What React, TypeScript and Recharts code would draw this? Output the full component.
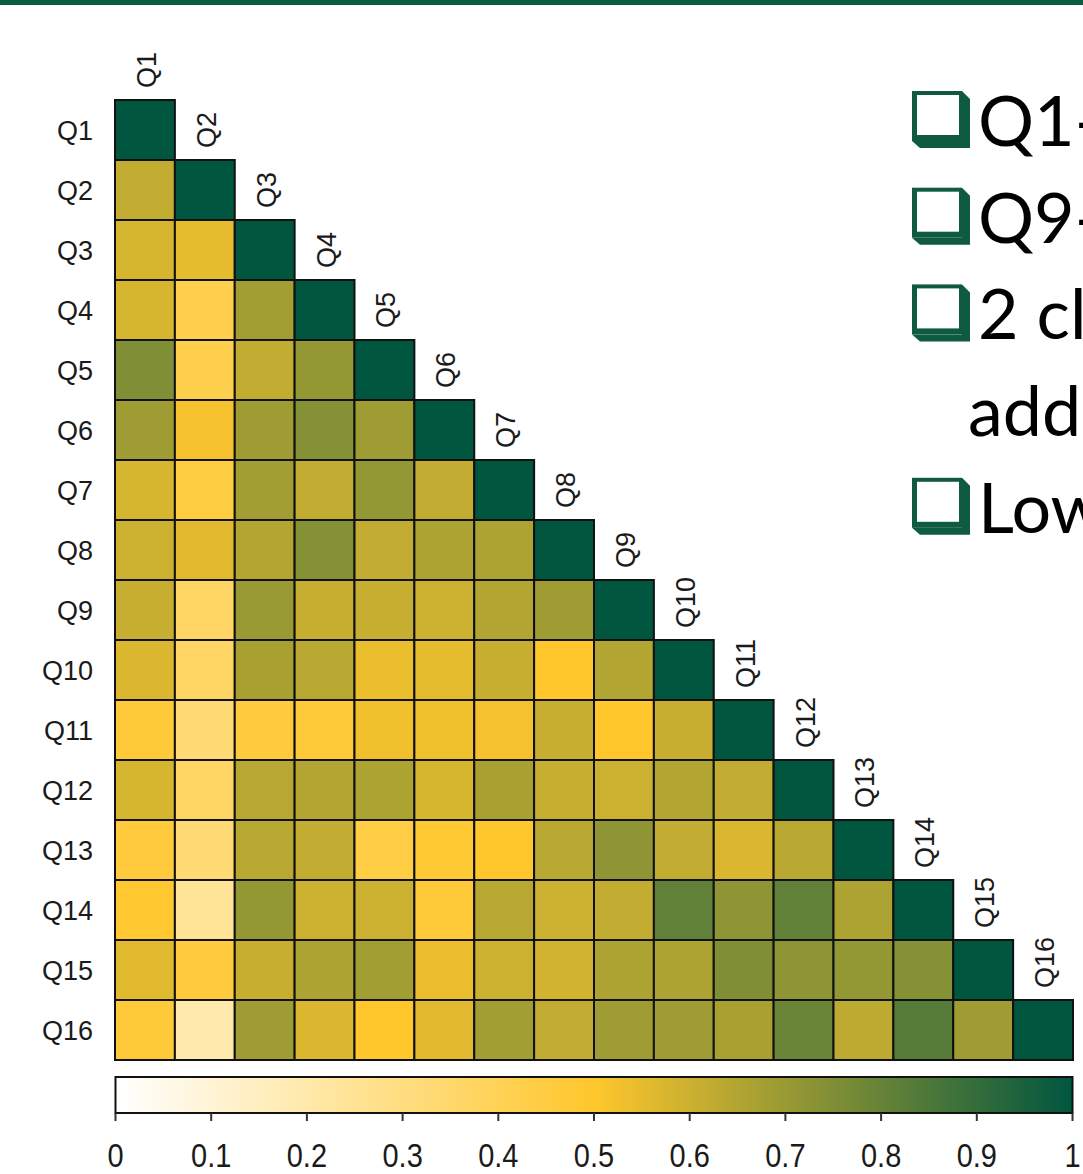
import React from 'react';
import { ScatterChart, Scatter, XAxis, YAxis, ReferenceArea } from 'recharts';

const QUESTIONS = ['Q1', 'Q2', 'Q3', 'Q4', 'Q5', 'Q6', 'Q7', 'Q8', 'Q9', 'Q10', 'Q11', 'Q12', 'Q13', 'Q14', 'Q15', 'Q16'];

// lower triangle of the correlation matrix, row Qi holds columns Q1..Qi
const CORR_ROWS: number[][] = [
  [1],
  [0.62, 1],
  [0.58, 0.55, 1],
  [0.58, 0.42, 0.68, 1],
  [0.75, 0.42, 0.62, 0.71, 1],
  [0.69, 0.52, 0.69, 0.74, 0.69, 1],
  [0.58, 0.45, 0.68, 0.62, 0.71, 0.62, 1],
  [0.6, 0.56, 0.65, 0.74, 0.62, 0.66, 0.66, 1],
  [0.61, 0.37, 0.7, 0.61, 0.61, 0.6, 0.65, 0.69, 1],
  [0.57, 0.37, 0.67, 0.64, 0.54, 0.55, 0.61, 0.5, 0.65, 1],
  [0.47, 0.33, 0.46, 0.47, 0.53, 0.53, 0.52, 0.61, 0.5, 0.61, 1],
  [0.58, 0.37, 0.64, 0.65, 0.66, 0.58, 0.67, 0.61, 0.6, 0.65, 0.62, 1],
  [0.46, 0.33, 0.64, 0.62, 0.44, 0.48, 0.5, 0.64, 0.72, 0.62, 0.57, 0.64, 1],
  [0.49, 0.25, 0.71, 0.6, 0.6, 0.47, 0.64, 0.6, 0.62, 0.81, 0.72, 0.81, 0.66, 1],
  [0.56, 0.46, 0.61, 0.66, 0.68, 0.54, 0.6, 0.59, 0.66, 0.66, 0.75, 0.72, 0.71, 0.74, 1],
  [0.47, 0.2, 0.69, 0.57, 0.5, 0.56, 0.68, 0.62, 0.69, 0.69, 0.67, 0.79, 0.63, 0.83, 0.69, 1],
];

const COLORBAR_TICKS = [0, 0.1, 0.2, 0.3, 0.4, 0.5, 0.6, 0.7, 0.8, 0.9, 1];

const BULLET_LINES = [
  { text: 'Q1-', box: true },
  { text: 'Q9-', box: true },
  { text: '2 cl', box: true },
  { text: 'add', box: false },
  { text: 'Low', box: true },
];

const STOPS: [number, number[]][] = [
  [0, [255, 255, 255]],
  [0.5, [255, 199, 44]],
  [1, [0, 86, 63]],
];

function colorFor(v: number) {
  let i = 0;
  while (i < STOPS.length - 2 && v > STOPS[i + 1][0]) i++;
  const [a, ca] = STOPS[i];
  const [b, cb] = STOPS[i + 1];
  const t = Math.max(0, Math.min(1, (v - a) / (b - a)));
  const c = ca.map((x, k) => Math.round(x + (cb[k] - x) * t));
  return `rgb(${c[0]},${c[1]},${c[2]})`;
}

const W = 1083;
const LEFT = 115;
const RIGHT = 10;
const TOP = 100;
const PLOT_H = 960;
const N = QUESTIONS.length;
const CELL_W = (W - LEFT - RIGHT) / N;
const CELL_H = PLOT_H / N;
const FONT = '"Liberation Sans", Arial, sans-serif';

const cells = CORR_ROWS.flatMap((row, i) => row.map((v, j) => ({ x: j + 1, y: i + 1, v })));
const diagLabels = QUESTIONS.map((q, i) => ({ x: i + 1, y: i + 1, label: q }));
const barAnchors = COLORBAR_TICKS.map((t) => ({ x: t, y: 0.5 }));

const CellShape = (props: any) => {
  const { cx, cy, payload } = props;
  return (
    <rect
      x={cx - CELL_W / 2}
      y={cy - CELL_H / 2}
      width={CELL_W}
      height={CELL_H}
      fill={colorFor(payload.v)}
      stroke="#111"
      strokeWidth={2}
    />
  );
};

const ColLabel = (props: any) => {
  const { cx, cy, payload } = props;
  const tx = cx + 11;
  const ty = cy - CELL_H / 2 - 12;
  return (
    <text x={tx} y={ty} transform={`rotate(-90 ${tx} ${ty})`} fontSize={27} fontFamily={FONT} fill="#1a1a1a">
      {payload.label}
    </text>
  );
};

// colorbar labels look vertically stretched in the original
const BarTick = (props: any) => {
  const { x, y, payload } = props;
  return (
    <g transform={`translate(${x} ${y + 23}) scale(1 1.15)`}>
      <text x={0} y={0} textAnchor="middle" fontSize={29} fontFamily={FONT} fill="#1a1a1a">
        {payload.value}
      </text>
    </g>
  );
};

const Bullets = () => (
  <svg width={W} height={600} style={{ position: 'absolute', left: 0, top: 0 }}>
    {BULLET_LINES.map((line, i) => {
      const base = 146 + i * 96.7;
      const bx = 912;
      const by = base - 55;
      return (
        <g key={i}>
          {line.box && (
            <g>
              <polygon
                points={`${bx + 50},${by} ${bx + 58},${by + 8} ${bx + 58},${by + 57} ${bx + 8},${by + 57} ${bx},${by + 50} ${bx + 50},${by + 50}`}
                fill="#0f5a43"
              />
              <rect x={bx} y={by} width={50} height={50} fill="#0f5a43" />
              <rect x={bx + 5} y={by + 4} width={42} height={40} fill="#fff" />
            </g>
          )}
          <text x={line.box ? 978 : 968} y={base} fontSize={70} fontFamily="Lato, 'Open Sans', sans-serif" fill="#000">
            {line.text}
          </text>
        </g>
      );
    })}
  </svg>
);

export default function App() {
  return (
    <div style={{ position: 'absolute', left: 0, top: 0, width: W, height: 1174, overflow: 'hidden', background: '#fff' }}>
      <div style={{ position: 'absolute', left: 0, top: 0, width: W, height: 5, background: '#0b5b45' }} />
      <div style={{ position: 'absolute', left: 0, top: 0 }}>
        <ScatterChart width={W} height={TOP + PLOT_H + 10} margin={{ top: TOP, right: RIGHT, bottom: 10, left: 0 }}>
          <XAxis type="number" dataKey="x" domain={[0.5, N + 0.5]} hide />
          <YAxis
            type="number"
            dataKey="y"
            domain={[0.5, N + 0.5]}
            reversed
            width={LEFT}
            ticks={QUESTIONS.map((_, i) => i + 1)}
            tickFormatter={(v: number) => QUESTIONS[v - 1]}
            axisLine={false}
            tickLine={false}
            tickSize={0}
            tickMargin={22}
            tick={{ fontSize: 27, fill: '#1a1a1a', fontFamily: FONT }}
            interval={0}
          />
          <Scatter data={cells} shape={CellShape} isAnimationActive={false} />
          <Scatter data={diagLabels} shape={ColLabel} isAnimationActive={false} />
        </ScatterChart>
      </div>
      <div style={{ position: 'absolute', left: 0, top: 1070 }}>
        <ScatterChart width={W} height={104} margin={{ top: 7, right: 10.5, bottom: 0, left: 115.5 }}>
          <defs>
            <linearGradient id="cbGrad" x1="0" y1="0" x2="1" y2="0">
              {STOPS.map(([o, c]) => (
                <stop key={o} offset={`${o * 100}%`} stopColor={`rgb(${c[0]},${c[1]},${c[2]})`} />
              ))}
            </linearGradient>
          </defs>
          <XAxis
            type="number"
            dataKey="x"
            domain={[0, 1]}
            ticks={COLORBAR_TICKS}
            interval={0}
            height={61}
            axisLine={false}
            tickSize={8}
            tickMargin={23}
            tickLine={{ stroke: '#333', strokeWidth: 2 }}
            tick={<BarTick />}
          />
          <YAxis type="number" dataKey="y" domain={[0, 1]} hide />
          <Scatter data={barAnchors} shape={() => <g />} isAnimationActive={false} />
          <ReferenceArea x1={0} x2={1} y1={0} y2={1} fill="url(#cbGrad)" fillOpacity={1} stroke="#111" strokeWidth={2} />
        </ScatterChart>
      </div>
      <Bullets />
    </div>
  );
}
